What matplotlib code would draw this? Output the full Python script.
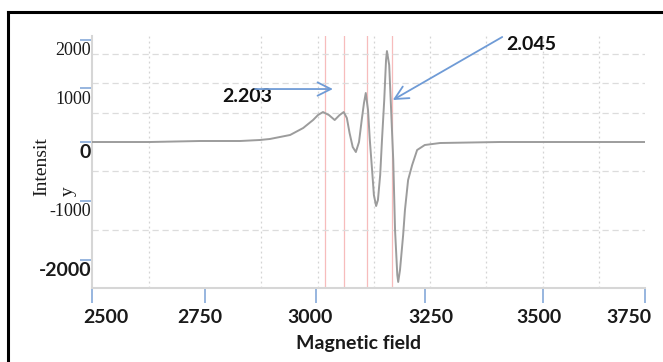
import matplotlib
matplotlib.use("Agg")
import matplotlib.pyplot as plt
from matplotlib.lines import Line2D
from matplotlib.transforms import ScaledTranslation
from matplotlib.ticker import MultipleLocator

# ---- data ----
field = [2500, 2628, 2739, 2828, 2872, 2894, 2939, 2968, 2990, 3001, 3012, 3025,
         3038, 3049, 3058, 3065, 3071, 3078, 3085, 3092, 3098, 3103, 3107, 3112,
         3116, 3121, 3125, 3130, 3134, 3139, 3143, 3148, 3152, 3154, 3159, 3163,
         3168, 3172, 3177, 3179, 3183, 3190, 3194, 3201, 3210, 3221, 3238, 3272,
         3405, 3727]
intensity = [0, 0, 17, 17, 34, 51, 119, 237, 373, 458, 508, 458,
             373, 458, 508, 407, 153, -85, -170, 0, 373, 661, 831, 542,
             34, -475, -898, -1085, -983, -559, 34, 712, 1390, 1542, 1305, 593,
             -305, -1492, -2254, -2373, -2170, -1576, -1153, -644, -390, -136, -51, -17,
             0, 0]
marker_lines = [3016, 3058, 3109, 3165]

xtick_pos = [2500, 2750, 2997, 3239, 3501, 3727]
xtick_labels = ["2500", "2750", "3000", "3250", "3500", "3750"]
xlabel_shift_px = [13, -5, -6, 6, -4, -16]
ytick_pos = [1730, 915, 0, -1000, -2000]
ytick_labels = ["2000", "1000", "0", "-1000", "-2000"]
ytick_serif = [True, True, False, True, False]

ann_labels = ["2.203", "2.045"]
ann_text_xy = [(2843, 763), (3474, 1661)]
ann_tail = [(2861, 898), (3410, 1780)]
ann_head = [(3034, 898), (3167, 712)]

# ---- figure ----
W, H = 663, 362
fig = plt.figure(figsize=(W / 100, H / 100), dpi=100)
ax = fig.add_axes([92.4 / W, 1 - 288 / H, (645 - 92.4) / W, (288 - 36) / H])

ax.set_xlim(2500, 3727)
ax.set_ylim(-2475, 1797)

# grid
ax.xaxis.set_minor_locator(MultipleLocator(125))
ax.yaxis.set_minor_locator(MultipleLocator(500))
ax.grid(False)
ax.grid(which="minor", axis="x", color="#d4d4d4", linestyle=(0, (1.5, 2.5)), linewidth=0.9)
ax.grid(which="minor", axis="y", color="#dcdcdc", linestyle=(0, (5, 3)), linewidth=0.9)
ax.tick_params(which="minor", length=0)

for xv in marker_lines:
    ax.axvline(xv, color="#f7bcbc", linewidth=0.9, zorder=1)

ax.plot(field, intensity, color="#9c9c9c", linewidth=1.4,
        solid_joinstyle="round", zorder=3)

# spines
for s in ("top", "right"):
    ax.spines[s].set_visible(False)
for s in ("left", "bottom"):
    ax.spines[s].set_color("#d6d6d6")
    ax.spines[s].set_linewidth(1.5)

# x ticks
ax.set_xticks(xtick_pos)
ax.set_xticklabels(xtick_labels)
ax.tick_params(axis="x", which="major", direction="out", length=11, width=1.3,
               color="#8fb0dc", pad=4, labelsize=14, labelcolor="#1a1a1a")
for tick, dx in zip(ax.xaxis.get_major_ticks(), xlabel_shift_px):
    lab = tick.label1
    lab.set_fontfamily("Lato")
    lab.set_fontweight("bold")
    lab.set_transform(lab.get_transform() +
                      ScaledTranslation(dx / 100, 0, fig.dpi_scale_trans))

# y ticks
ax.set_yticks(ytick_pos)
ax.set_yticklabels(ytick_labels)
ax.tick_params(axis="y", which="major", direction="out", length=9, width=1.3,
               color="#8fb0dc", pad=-8, labelcolor="#1a1a1a")
offset = ScaledTranslation(0, -9 / 100, fig.dpi_scale_trans)
for tick, serif in zip(ax.yaxis.get_major_ticks(), ytick_serif):
    lab = tick.label1
    if serif:
        lab.set_fontfamily("Liberation Serif")
        lab.set_fontsize(13)
        lab.set_fontweight("normal")
    else:
        lab.set_fontfamily("Lato")
        lab.set_fontsize(14)
        lab.set_fontweight("bold")
    lab.set_transform(lab.get_transform() + offset)

# axis titles
fig.text(359 / W, 1 - 343 / H, "Magnetic field", ha="center", va="center",
         fontfamily="Lato", fontweight="bold", fontsize=14, color="#1a1a1a")
fig.text(55 / W, 1 - 167 / H, "Intensit\ny", rotation=90, ha="center", va="center",
         multialignment="left", fontfamily="Liberation Serif", fontsize=14,
         linespacing=1.7, color="#1a1a1a")

# annotations
for lab, txy, tail, head in zip(ann_labels, ann_text_xy, ann_tail, ann_head):
    ax.text(txy[0], txy[1], lab, ha="center", va="center", fontfamily="Lato",
            fontweight="bold", fontsize=14, color="#111111", zorder=5)
    ax.annotate("", xy=head, xytext=tail,
                arrowprops=dict(arrowstyle="->,head_length=0.8,head_width=0.4",
                                color="#6f9bd6", lw=1.3, mutation_scale=12,
                                shrinkA=0, shrinkB=0),
                annotation_clip=False, zorder=6)

# outer frame (top and left edges visible)
fig.add_artist(Line2D([8 / W, 1.0], [1 - 12 / H, 1 - 12 / H], color="black",
                      linewidth=2.2, transform=fig.transFigure))
fig.add_artist(Line2D([8 / W, 8 / W], [0.0, 1 - 12 / H], color="black",
                      linewidth=2.2, transform=fig.transFigure))

fig.savefig("out.png", dpi=100)
